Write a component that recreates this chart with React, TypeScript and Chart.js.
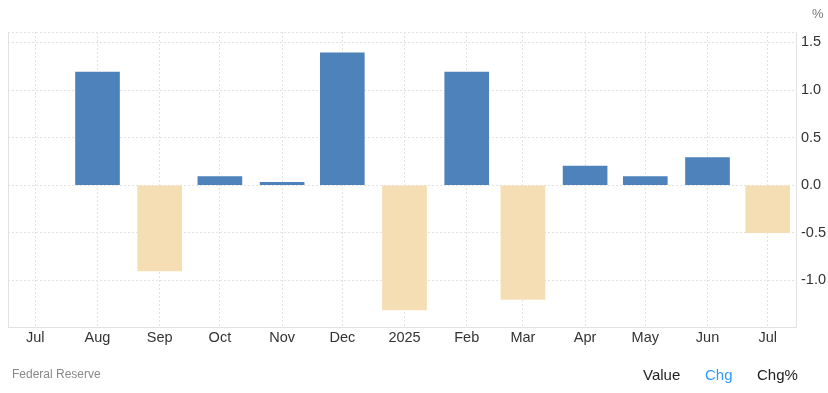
import React, { useEffect, useRef } from "react";
import { Chart, registerables } from "chart.js";

Chart.register(...registerables);

const months = ["2024-07", "2024-08", "2024-09", "2024-10", "2024-11", "2024-12", "2025-01", "2025-02", "2025-03", "2025-04", "2025-05", "2025-06", "2025-07"];
const tickLabels = ["Jul", "Aug", "Sep", "Oct", "Nov", "Dec", "2025", "Feb", "Mar", "Apr", "May", "Jun", "Jul"];
const changes: (number | null)[] = [null, 1.19, -0.9, 0.09, 0.03, 1.39, -1.31, 1.19, -1.2, 0.2, 0.09, 0.29, -0.5];
const yTicks = [-1.0, -0.5, 0.0, 0.5, 1.0, 1.5];

const Y_MIN = -1.49;
const Y_MAX = 1.61;

const BLUE = "#4e82ba";
const BEIGE = "#f5deb4";

function dayOffset(m: string): number {
  const [y, mo] = m.split("-").map(Number);
  return (Date.UTC(y, mo - 1, 1) - Date.UTC(2024, 6, 1)) / 86400000;
}

const days = months.map(dayOffset);

export default function App() {
  const ref = useRef<HTMLCanvasElement | null>(null);

  useEffect(() => {
    if (!ref.current) return;
    const borderPlugin = {
      id: "frameBorder",
      afterDraw(chart: any) {
        const { ctx, chartArea } = chart;
        ctx.save();
        ctx.strokeStyle = "#e2e2e2";
        ctx.lineWidth = 1;
        ctx.setLineDash([]);
        ctx.beginPath();
        ctx.moveTo(Math.round(chartArea.left) + 0.5, chartArea.top);
        ctx.lineTo(Math.round(chartArea.left) + 0.5, chartArea.bottom);
        ctx.moveTo(Math.round(chartArea.right) + 0.5, chartArea.top);
        ctx.lineTo(Math.round(chartArea.right) + 0.5, chartArea.bottom + 0.5);
        ctx.moveTo(chartArea.left, Math.round(chartArea.bottom) + 0.5);
        ctx.lineTo(chartArea.right + 0.5, Math.round(chartArea.bottom) + 0.5);
        ctx.stroke();
        ctx.restore();
      },
    };
    const chart = new Chart(ref.current, {
      type: "bar",
      data: {
        datasets: [
          {
            data: days.map((d, i) => ({ x: d, y: changes[i] })) as any,
            backgroundColor: changes.map((v) => ((v ?? 0) >= 0 ? BLUE : BEIGE)),
            barThickness: 44,
            borderWidth: 0,
          },
        ],
      },
      options: {
        animation: false,
        responsive: false,
        devicePixelRatio: 1,
        layout: { padding: { left: 8, top: 32, right: 0, bottom: 0 } },
        plugins: { legend: { display: false }, tooltip: { enabled: false } },
        scales: {
          x: {
            type: "linear",
            min: -13.6,
            max: 379.1,
            offset: false,
            afterBuildTicks: (scale: any) => {
              scale.ticks = days.map((v) => ({ value: v }));
            },
            afterFit: (scale: any) => {
              scale.height = 66;
            },
            ticks: {
              autoSkip: false,
              maxRotation: 0,
              padding: 2,
              color: "#333",
              font: { family: "'Liberation Sans', Arial, sans-serif", size: 14.5 },
              callback: (value: any) => {
                const i = days.indexOf(Number(value));
                return i >= 0 ? tickLabels[i] : "";
              },
            },
            grid: {
              color: "#e2e2e2",
              drawTicks: false,
              offset: false,
            },
            border: { display: false, dash: [2, 2] },
          },
          y: {
            position: "right",
            min: Y_MIN,
            max: Y_MAX,
            afterBuildTicks: (scale: any) => {
              scale.ticks = [Y_MIN, ...yTicks, Y_MAX].map((v) => ({ value: v }));
            },
            afterFit: (scale: any) => {
              scale.width = 32;
            },
            ticks: {
              padding: 5,
              crossAlign: "near",
              color: "#333",
              font: { family: "'Liberation Sans', Arial, sans-serif", size: 14.5 },
              callback: (value: any) => {
                const v = Number(value);
                return yTicks.some((t) => Math.abs(t - v) < 1e-9) ? v.toFixed(1) : "";
              },
            },
            grid: {
              color: "#e2e2e2",
              drawTicks: false,
            },
            border: { display: false, dash: [2, 2] },
          },
        },
      } as any,
      plugins: [borderPlugin],
    });
    return () => chart.destroy();
  }, []);

  const font = "'Liberation Sans', Arial, sans-serif";
  return (
    <div style={{ position: "absolute", left: 0, top: 0, width: 828, height: 393, fontFamily: font }}>
      <canvas ref={ref} width={828} height={393} style={{ position: "absolute", left: 0, top: 0, width: 828, height: 393 }} />
      <div style={{ position: "absolute", left: 812, top: 7, fontSize: 13, lineHeight: "13px", color: "#777" }}>%</div>
      <div style={{ position: "absolute", left: 12, top: 368, fontSize: 12, lineHeight: "12px", color: "#888" }}>Federal Reserve</div>
      <div style={{ position: "absolute", left: 643, top: 367, fontSize: 15, lineHeight: "15px", color: "#222" }}>Value</div>
      <div style={{ position: "absolute", left: 705, top: 367, fontSize: 15, lineHeight: "15px", color: "#3399ff" }}>Chg</div>
      <div style={{ position: "absolute", left: 757, top: 367, fontSize: 15, lineHeight: "15px", color: "#222" }}>Chg%</div>
    </div>
  );
}
